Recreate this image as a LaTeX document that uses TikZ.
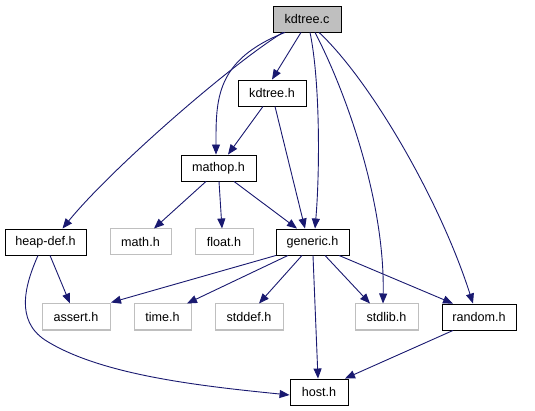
\documentclass[tikz,border=0pt]{standalone}
\usepackage{fontspec}
\setmainfont{Liberation Sans}
\usetikzlibrary{arrows.meta}
\definecolor{edgeblue}{HTML}{191970}
\definecolor{boxgray}{HTML}{BFBFBF}
\begin{document}
\begin{tikzpicture}[x=1pt,y=-1pt,
  every node/.style={font=\fontsize{12.6}{14}\selectfont, minimum height=26pt, inner sep=0pt, anchor=center},
  doc/.style={draw=black, line width=0.9pt, fill=white},
  sys/.style={draw=boxgray, line width=1pt, fill=white},
  main/.style={draw=black, line width=0.9pt, fill=boxgray},
  dep/.style={draw=edgeblue, line width=0.9pt, -{Triangle[length=10pt,width=8pt]}}]
\useasboundingbox (0,0) rectangle (535,411);
% nodes
\node[main, minimum width=68pt] (kdc) at (307,19) {kdtree.c};
\node[doc, minimum width=68pt] (kdh) at (272,93) {kdtree.h};
\node[doc, minimum width=75pt] (mathop) at (218.5,168) {mathop.h};
\node[doc, minimum width=81pt] (heap) at (45.5,242) {heap-def.h};
\node[sys, minimum width=61pt] (math) at (140.5,242) {math.h};
\node[sys, minimum width=58pt] (float) at (224,242) {float.h};
\node[doc, minimum width=73pt] (generic) at (312.5,242) {generic.h};
\node[sys, minimum width=68pt] (assert) at (76,317) {assert.h};
\node[sys, minimum width=57pt] (time) at (162.5,317) {time.h};
\node[sys, minimum width=68pt] (stddef) at (249,317) {stddef.h};
\node[sys, minimum width=63pt] (stdlib) at (386.5,317) {stdlib.h};
\node[doc, minimum width=74pt] (random) at (479,317) {random.h};
\node[doc, minimum width=58pt] (host) at (319,392) {host.h};
% edges from kdtree.c
\draw[dep] ([xshift=-6pt]kdc.south) -- (kdh.north);
\draw[dep] ([xshift=-22pt]kdc.south) .. controls (215,60) and (216,100) .. ([xshift=-2.5pt]mathop.north);
\draw[dep] ([xshift=-24pt]kdc.south) .. controls (230,65) and (110,170) .. ([xshift=17pt]heap.north);
\draw[dep] ([xshift=3pt]kdc.south) .. controls (320,80) and (320,170) .. ([xshift=2.5pt]generic.north);
\draw[dep] ([xshift=8pt]kdc.south) .. controls (345,90) and (385,200) .. ([xshift=-3.5pt]stdlib.north);
\draw[dep] ([xshift=12pt]kdc.south) .. controls (370,80) and (440,200) .. ([xshift=-6pt]random.north);
% kdtree.h
\draw[dep] ([xshift=-9pt]kdh.south) -- ([xshift=9.5pt]mathop.north);
\draw[dep] ([xshift=3pt]kdh.south) -- ([xshift=-7.5pt]generic.north);
% mathop.h
\draw[dep] ([xshift=-12.5pt]mathop.south) -- ([xshift=13.5pt]math.north);
\draw[dep] ([xshift=0.5pt]mathop.south) -- ([xshift=-2pt]float.north);
\draw[dep] ([xshift=15.5pt]mathop.south) -- ([xshift=-15.5pt]generic.north);
% heap-def.h
\draw[dep] ([xshift=4.5pt]heap.south) -- ([xshift=-6pt]assert.north);
\draw[dep] ([xshift=-7.5pt]heap.south) .. controls (25,285) and (15,320) .. (45,340) .. controls (100,375) and (200,386) .. ([yshift=-3pt]host.west);
% generic.h
\draw[dep] ([xshift=-36.5pt]generic.south) -- ([xshift=35pt,yshift=1pt]assert.north);
\draw[dep] ([xshift=-24.5pt]generic.south) -- ([xshift=24.5pt]time.north);
\draw[dep] ([xshift=-10.5pt]generic.south) -- ([xshift=10pt]stddef.north);
\draw[dep] ([xshift=0.5pt]generic.south) -- ([xshift=-1pt]host.north);
\draw[dep] ([xshift=12.5pt]generic.south) -- ([xshift=-16.5pt]stdlib.north);
\draw[dep] ([xshift=26.5pt]generic.south) -- ([xshift=-26pt]random.north);
% random.h
\draw[dep] ([xshift=-26pt]random.south) -- ([xshift=26pt]host.north);
\end{tikzpicture}
\end{document}
